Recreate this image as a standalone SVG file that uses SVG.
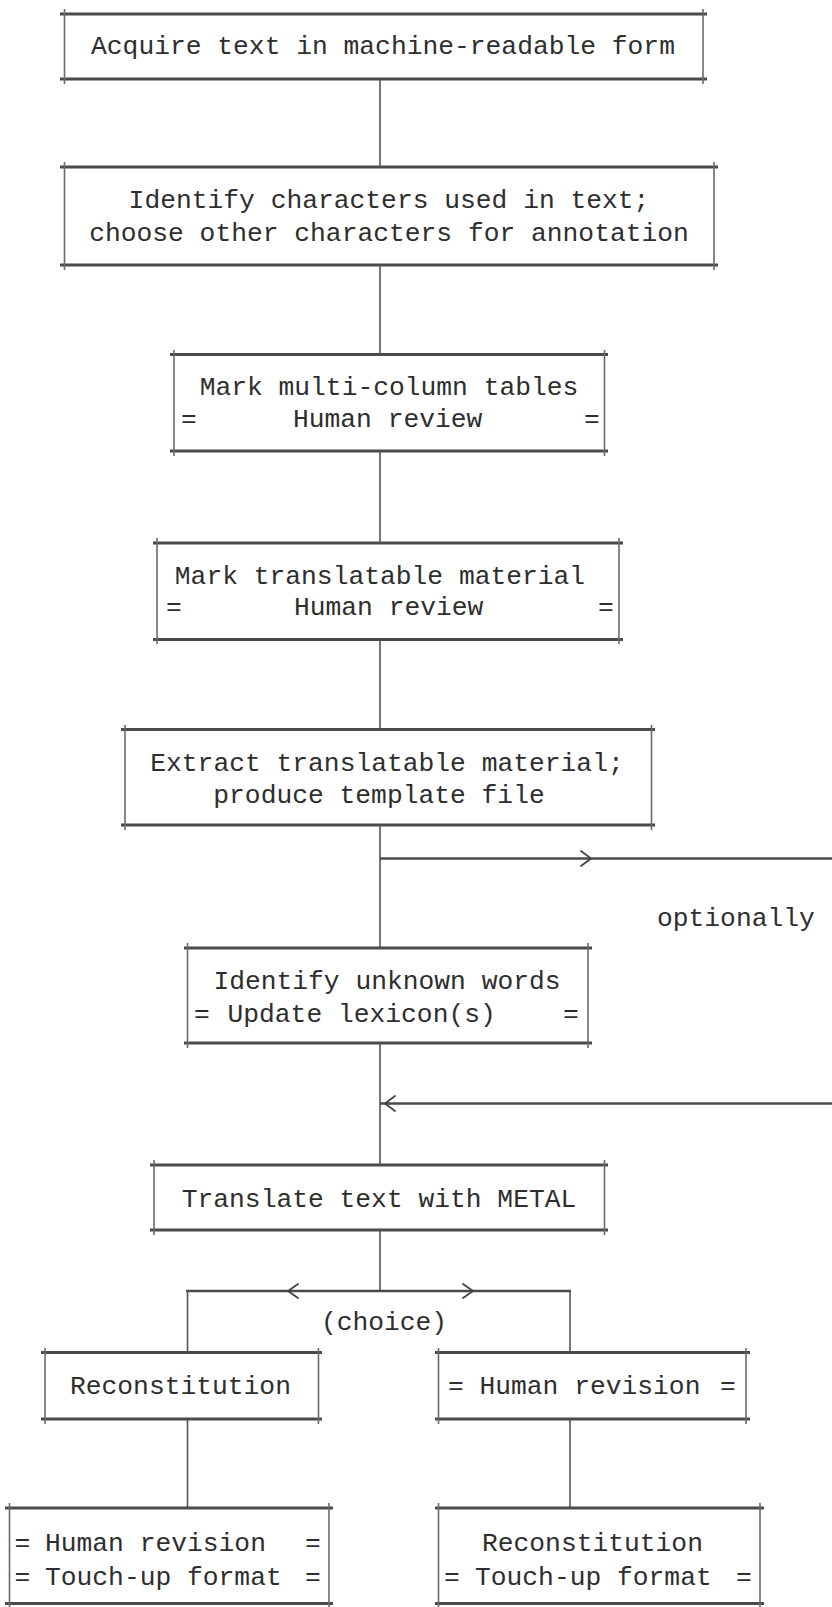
<svg xmlns="http://www.w3.org/2000/svg" width="832" height="1607" viewBox="0 0 832 1607">
  <style>
    .h { stroke: #4a4a4a; stroke-width: 3; fill: none; }
    .v { stroke: #6a6a6a; stroke-width: 1.6; fill: none; }
    .c { stroke: #555; stroke-width: 1.6; fill: none; }
    .b { stroke: #4a4a4a; stroke-width: 2.6; fill: none; }
    .a { stroke: #444; stroke-width: 1.8; fill: none; stroke-linecap: round; stroke-linejoin: round; }
    text { font-family: "Liberation Mono", "DejaVu Sans Mono", monospace; font-size: 26.3px; fill: #2e2e2e; }
    .m { text-anchor: middle; }
  </style>
  <rect width="832" height="1607" fill="#ffffff"/>

  <!-- connectors -->
  <g id="connectors">
    <line class="c" x1="380" y1="79" x2="380" y2="167"/>
    <line class="c" x1="380" y1="265" x2="380" y2="354"/>
    <line class="c" x1="380" y1="451" x2="380" y2="543"/>
    <line class="c" x1="380" y1="639" x2="380" y2="729"/>
    <line class="c" x1="380" y1="825" x2="380" y2="948"/>
    <line class="c" x1="380" y1="1043" x2="380" y2="1165"/>
    <line class="c" x1="380" y1="1230" x2="380" y2="1291"/>
    <!-- optional path around the lexicon step -->
    <line class="b" x1="380" y1="858.5" x2="832" y2="858.5"/>
    <polyline class="a" points="581,851 591,858.5 581,866"/>
    <line class="b" x1="380" y1="1103.5" x2="832" y2="1103.5"/>
    <polyline class="a" points="395,1096 385,1103.5 395,1111"/>
    <!-- choice split -->
    <line class="b" x1="186" y1="1291" x2="571" y2="1291"/>
    <polyline class="a" points="298,1284 288,1291 298,1298"/>
    <polyline class="a" points="463,1284 473,1291 463,1298"/>
    <line class="c" x1="187.5" y1="1291" x2="187.5" y2="1352"/>
    <line class="c" x1="570" y1="1291" x2="570" y2="1352"/>
    <line class="c" x1="187.5" y1="1419" x2="187.5" y2="1508"/>
    <line class="c" x1="570" y1="1419" x2="570" y2="1508"/>
  </g>

  <g id="acquire">
    <line class="h" x1="60" y1="14" x2="707" y2="14"/>
    <line class="h" x1="60" y1="79" x2="707" y2="79"/>
    <line class="v" x1="64.5" y1="9" x2="64.5" y2="84"/>
    <line class="v" x1="703" y1="9" x2="703" y2="84"/>
    <text class="m" x="383" y="54">Acquire text in machine-readable form</text>
  </g>

  <g id="identify-characters">
    <line class="h" x1="60" y1="167" x2="718" y2="167"/>
    <line class="h" x1="60" y1="265" x2="718" y2="265"/>
    <line class="v" x1="64.5" y1="162" x2="64.5" y2="270"/>
    <line class="v" x1="714" y1="162" x2="714" y2="270"/>
    <text class="m" x="389" y="208">Identify characters used in text;</text>
    <text class="m" x="389" y="241">choose other characters for annotation</text>
  </g>

  <g id="mark-tables">
    <line class="h" x1="170" y1="354.5" x2="608" y2="354.5"/>
    <line class="h" x1="170" y1="451" x2="608" y2="451"/>
    <line class="v" x1="174" y1="350" x2="174" y2="456"/>
    <line class="v" x1="604.5" y1="350" x2="604.5" y2="456"/>
    <text class="m" x="389" y="395">Mark multi-column tables</text>
    <text x="181" y="427">=</text>
    <text x="293" y="427">Human review</text>
    <text x="584" y="427">=</text>
  </g>

  <g id="mark-translatable">
    <line class="h" x1="153" y1="543" x2="623" y2="543"/>
    <line class="h" x1="153" y1="639.5" x2="623" y2="639.5"/>
    <line class="v" x1="157" y1="538" x2="157" y2="644"/>
    <line class="v" x1="619" y1="538" x2="619" y2="644"/>
    <text class="m" x="380" y="584">Mark translatable material</text>
    <text x="166" y="615">=</text>
    <text x="294" y="615">Human review</text>
    <text x="598" y="615">=</text>
  </g>

  <g id="extract">
    <line class="h" x1="121" y1="729.5" x2="655" y2="729.5"/>
    <line class="h" x1="121" y1="825" x2="655" y2="825"/>
    <line class="v" x1="125" y1="725" x2="125" y2="830"/>
    <line class="v" x1="651.5" y1="725" x2="651.5" y2="830"/>
    <text class="m" x="387" y="771">Extract translatable material;</text>
    <text class="m" x="379" y="803">produce template file</text>
  </g>

  <text x="657" y="926">optionally</text>

  <g id="unknown-words">
    <line class="h" x1="184" y1="948" x2="592" y2="948"/>
    <line class="h" x1="184" y1="1043" x2="592" y2="1043"/>
    <line class="v" x1="187.5" y1="943" x2="187.5" y2="1048"/>
    <line class="v" x1="588" y1="943" x2="588" y2="1048"/>
    <text class="m" x="387" y="989">Identify unknown words</text>
    <text x="194" y="1022">=</text>
    <text x="227.5" y="1022">Update lexicon(s)</text>
    <text x="563" y="1022">=</text>
  </g>

  <g id="translate">
    <line class="h" x1="150" y1="1165" x2="608" y2="1165"/>
    <line class="h" x1="150" y1="1230" x2="608" y2="1230"/>
    <line class="v" x1="154" y1="1160" x2="154" y2="1235"/>
    <line class="v" x1="604.5" y1="1160" x2="604.5" y2="1235"/>
    <text class="m" x="379" y="1207">Translate text with METAL</text>
  </g>

  <text class="m" x="384" y="1330">(choice)</text>

  <g id="reconstitution-left">
    <line class="h" x1="41" y1="1352.5" x2="322" y2="1352.5"/>
    <line class="h" x1="41" y1="1419" x2="322" y2="1419"/>
    <line class="v" x1="45" y1="1348" x2="45" y2="1424"/>
    <line class="v" x1="318.5" y1="1348" x2="318.5" y2="1424"/>
    <text x="70" y="1394">Reconstitution</text>
  </g>

  <g id="human-revision-right">
    <line class="h" x1="435" y1="1352.5" x2="750" y2="1352.5"/>
    <line class="h" x1="435" y1="1419" x2="750" y2="1419"/>
    <line class="v" x1="438.5" y1="1348" x2="438.5" y2="1424"/>
    <line class="v" x1="746" y1="1348" x2="746" y2="1424"/>
    <text x="448" y="1394">=</text>
    <text x="479.5" y="1394">Human revision</text>
    <text x="720" y="1394">=</text>
  </g>

  <g id="revision-touchup-left">
    <line class="h" x1="5" y1="1508" x2="333" y2="1508"/>
    <line class="h" x1="5" y1="1603.5" x2="333" y2="1603.5"/>
    <line class="v" x1="9.5" y1="1503" x2="9.5" y2="1607"/>
    <line class="v" x1="329" y1="1503" x2="329" y2="1607"/>
    <text x="14.5" y="1551">=</text>
    <text x="45" y="1551">Human revision</text>
    <text x="305" y="1551">=</text>
    <text x="14.5" y="1585">=</text>
    <text x="45" y="1585">Touch-up format</text>
    <text x="305" y="1585">=</text>
  </g>

  <g id="reconstitution-touchup-right">
    <line class="h" x1="435" y1="1508" x2="764" y2="1508"/>
    <line class="h" x1="435" y1="1603.5" x2="764" y2="1603.5"/>
    <line class="v" x1="438.5" y1="1503" x2="438.5" y2="1607"/>
    <line class="v" x1="760" y1="1503" x2="760" y2="1607"/>
    <text x="482" y="1551">Reconstitution</text>
    <text x="444" y="1585">=</text>
    <text x="475" y="1585">Touch-up format</text>
    <text x="736" y="1585">=</text>
  </g>
</svg>
